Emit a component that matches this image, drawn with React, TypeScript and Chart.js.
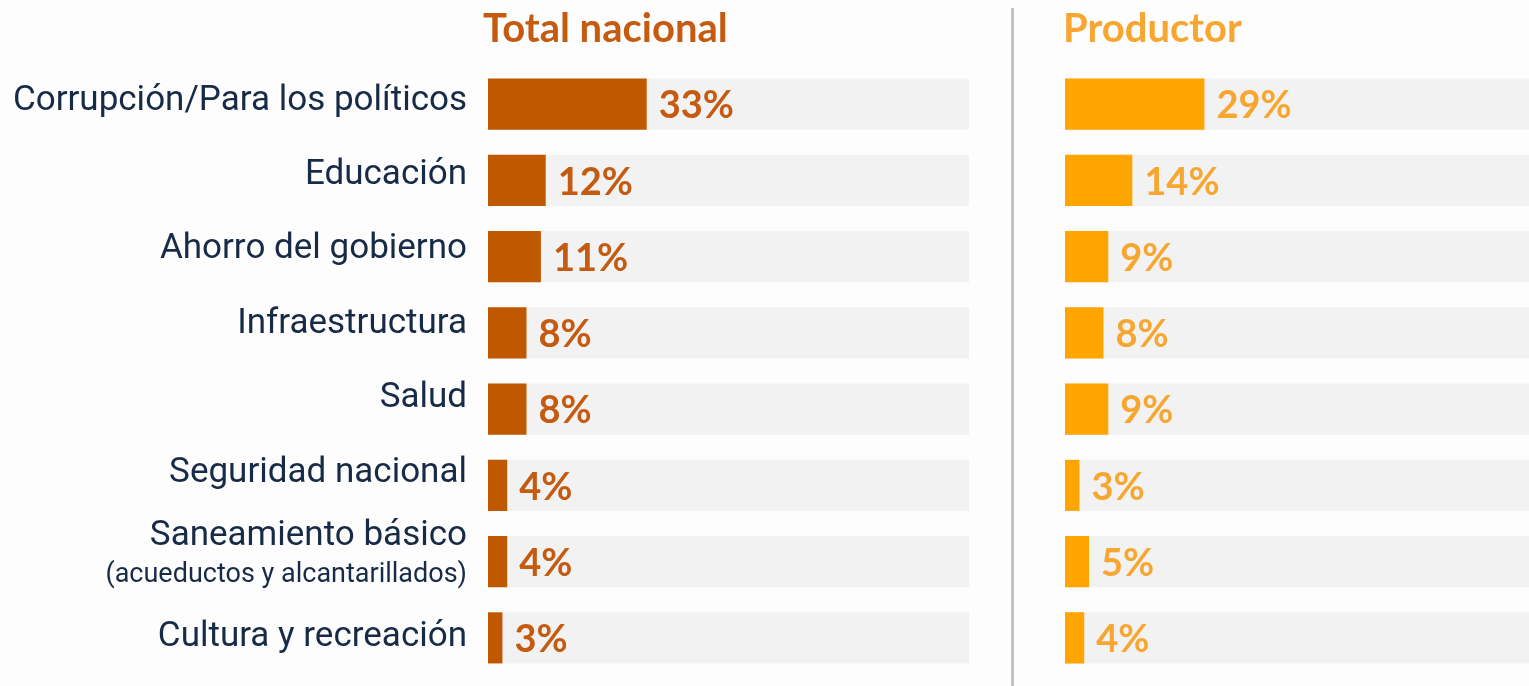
import React, { useEffect, useRef } from "react";
import { Chart, registerables } from "chart.js";

Chart.register(...registerables);

const categories = [
  "Corrupción/Para los políticos",
  "Educación",
  "Ahorro del gobierno",
  "Infraestructura",
  "Salud",
  "Seguridad nacional",
  "Saneamiento básico|(acueductos y alcantarillados)",
  "Cultura y recreación",
];
const totalNacional = [33, 12, 11, 8, 8, 4, 4, 3];
const productor = [29, 14, 9, 8, 9, 3, 5, 4];

const LEFT_MAX = 100;
const RIGHT_MAX = 96.5;

const TOTAL_COLOR = "#c05800";
const TOTAL_TEXT = "#c55a11";
const PROD_COLOR = "#ffa500";
const PROD_TEXT = "#f7a731";
const TRACK = "#f2f2f2";
const LABEL_COLOR = "#172a46";

function makeConfig(values: number[], max: number, barColor: string, textColor: string, padLeft: number, padRight: number, showCats: boolean) {
  const labelsPlugin = {
    id: "customLabels",
    afterDatasetsDraw(chart: any) {
      const ctx = chart.ctx;
      const meta = chart.getDatasetMeta(0);
      const yScale = chart.scales.y;
      ctx.save();
      ctx.font = "bold 38px Lato";
      ctx.fillStyle = textColor;
      ctx.textAlign = "left";
      ctx.textBaseline = "middle";
      meta.data.forEach((bar: any, i: number) => {
        ctx.fillText(values[i] + "%", bar.x + 12, bar.y + 2);
      });
      if (showCats) {
        ctx.fillStyle = LABEL_COLOR;
        ctx.textAlign = "right";
        ctx.textBaseline = "alphabetic";
        const x = chart.chartArea.left - 21;
        const n = categories.length;
        categories.forEach((c, i) => {
          const y = yScale.getPixelForValue(i);
          const parts = c.split("|");
          if (parts.length === 1) {
            ctx.font = "35px Roboto";
            const off = i === n - 1 ? 8.5 : 5.5 - 1.85 * i;
            ctx.fillText(parts[0], x, y + off);
          } else {
            ctx.font = "35px Roboto";
            ctx.fillText(parts[0], x, y - 16.5);
            ctx.font = "27px Roboto";
            ctx.fillText(parts[1], x, y + 20.5);
          }
        });
      }
      ctx.restore();
    },
  };
  return {
    type: "bar" as const,
    data: {
      labels: categories,
      datasets: [
        {
          data: values,
          backgroundColor: barColor,
          order: 1,
          grouped: false,
          barPercentage: 1,
          categoryPercentage: 0.67,
        },
        {
          data: values.map(() => max),
          backgroundColor: TRACK,
          order: 2,
          grouped: false,
          barPercentage: 1,
          categoryPercentage: 0.67,
        },
      ],
    },
    options: {
      indexAxis: "y" as const,
      animation: false as const,
      responsive: false,
      maintainAspectRatio: false,
      layout: { padding: { left: padLeft, right: padRight, top: 66, bottom: 10 } },
      plugins: { legend: { display: false }, tooltip: { enabled: false }, title: { display: false } },
      scales: {
        x: { display: false, min: 0, max: max },
        y: { display: false },
      },
    },
    plugins: [labelsPlugin],
  };
}

export default function App() {
  const leftRef = useRef<HTMLCanvasElement>(null);
  const rightRef = useRef<HTMLCanvasElement>(null);

  useEffect(() => {
    const c1 = new Chart(leftRef.current!, makeConfig(totalNacional, LEFT_MAX, TOTAL_COLOR, TOTAL_TEXT, 488, 31, true) as any);
    const c2 = new Chart(rightRef.current!, makeConfig(productor, RIGHT_MAX, PROD_COLOR, PROD_TEXT, 52, 0, false) as any);
    return () => {
      c1.destroy();
      c2.destroy();
    };
  }, []);

  return (
    <div style={{ position: "fixed", left: 0, top: 0, width: 1529, height: 686, background: "#fdfdfd", overflow: "hidden" }}>
      <canvas ref={leftRef} width={1000} height={686} style={{ position: "absolute", left: 0, top: 0, width: 1000, height: 686 }} />
      <canvas ref={rightRef} width={516} height={686} style={{ position: "absolute", left: 1013, top: 0, width: 516, height: 686 }} />
      <div style={{ position: "absolute", left: 1011, top: 8, width: 3, height: 678, background: "#c3c3c3" }} />
      <div style={{ position: "absolute", left: 483, top: 4, font: "bold 40px Lato", color: TOTAL_TEXT, lineHeight: "46px" }}>Total nacional</div>
      <div style={{ position: "absolute", left: 1063, top: 4, font: "bold 40px Lato", color: PROD_TEXT, lineHeight: "46px" }}>Productor</div>
    </div>
  );
}
